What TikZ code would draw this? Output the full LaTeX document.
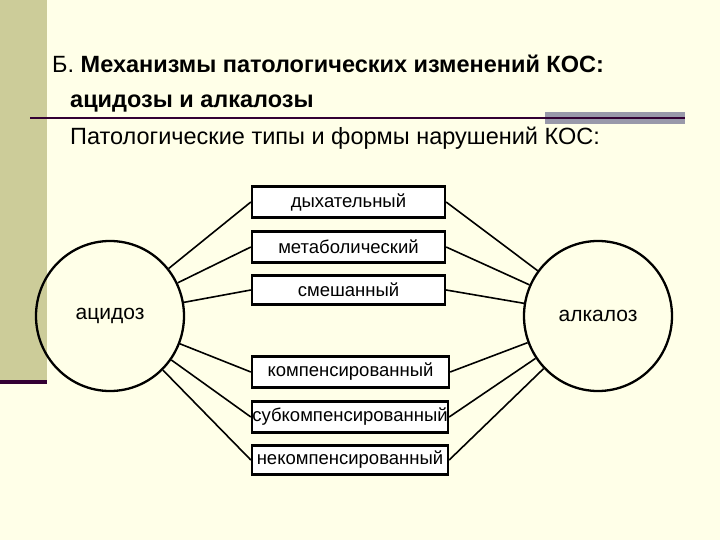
\documentclass[tikz,border=0pt]{standalone}
\usepackage{fontspec}
\setmainfont{Liberation Sans}
\usetikzlibrary{shapes.geometric}
\definecolor{bg}{HTML}{FFFFE8}
\definecolor{olive}{HTML}{CCCC99}
\definecolor{dpurple}{HTML}{330033}
\definecolor{gbar}{HTML}{9999AA}
\begin{document}
\begin{tikzpicture}[x=1pt,y=-1pt,
 box/.style={draw,line width=2.3pt,fill=white,minimum height=31pt,inner sep=0pt,font=\fontsize{18.5}{20}\selectfont},
 oval/.style={draw,ellipse,line width=2.3pt,minimum width=148pt,minimum height=150pt,font=\fontsize{21}{24}\selectfont},
 link/.style={line width=1.6pt}]
\fill[bg] (0,0) rectangle (720,540);
\useasboundingbox (0,0) rectangle (720,540);
\fill[olive] (0,0) rectangle (47,380);
\fill[dpurple] (0,380) rectangle (47,384);
\fill[gbar] (545,112) rectangle (685,124);
\draw[dpurple,line width=1.4pt] (30,118) -- (685,118);
\node[anchor=base west,font=\fontsize{23.5}{26}\selectfont,inner sep=0pt] (t1) at (52,73) {Б. \textbf{Механизмы патологических изменений КОС:}};
\node[anchor=base west,font=\fontsize{23.5}{26}\selectfont\bfseries,inner sep=0pt] (t2) at (70,108) {ацидозы и алкалозы};
\node[anchor=base west,font=\fontsize{23.5}{26}\selectfont,inner sep=0pt] (t3) at (70,145) {Патологические типы и формы нарушений КОС:};
\node[oval] (ac) at (110,316) {ацидоз};
\node[oval] (al) at (598,316) {алкалоз};
\node[box,minimum width=193pt] (b1) at (348.5,202) {дыхательный};
\node[box,minimum width=193pt] (b2) at (348.5,247) {метаболический};
\node[box,minimum width=193pt,minimum height=29pt] (b3) at (348.5,290) {смешанный};
\node[box,minimum width=197pt] (b4) at (350.5,372) {компенсированный};
\node[box,minimum width=196pt] (b5) at (350,417) {субкомпенсированный};
\node[box,minimum width=196pt,minimum height=29pt] (b6) at (350,460) {некомпенсированный};
\foreach \b in {b1,b2,b3,b4,b5,b6}{
 \draw[link] (ac) -- (\b.west);
 \draw[link] (al) -- (\b.east);
}
\end{tikzpicture}
\end{document}
